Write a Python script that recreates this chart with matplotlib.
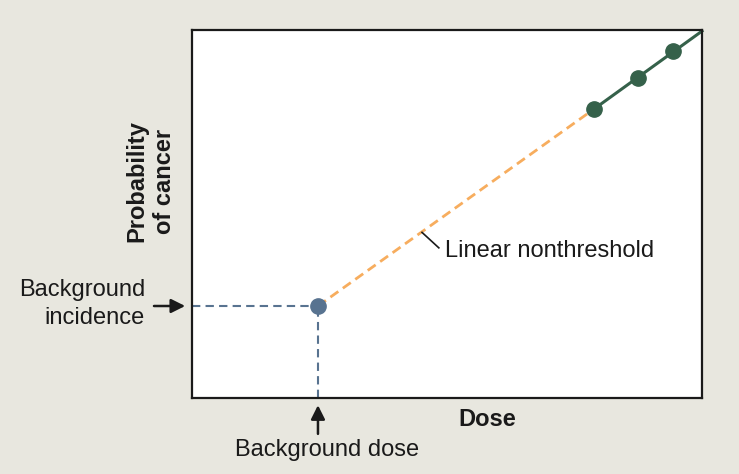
import numpy as np
import matplotlib.pyplot as plt

plt.rcParams['font.family'] = ['Liberation Sans', 'DejaVu Sans']

# data (arbitrary units, axes run 0..10)
bg_dose = 2.47
bg_incidence = 2.5
lnt_x = [2.47, 7.88]
lnt_y = [2.5, 7.85]
obs_x = [7.88, 8.75, 9.43]
obs_y = [7.85, 8.70, 9.43]
fit_x = [7.88, 10.0]
fit_y = [7.85, 9.97]

bg = '#e8e7df'
blue = '#587390'
green = '#35614a'
orange = '#f7ad5e'

fig = plt.figure(figsize=(7.39, 4.74), dpi=100, facecolor=bg)
ax = fig.add_axes([192/739, 76/474, 510/739, 368/474])
ax.set_xlim(0, 10)
ax.set_ylim(0, 10)
ax.set_xticks([])
ax.set_yticks([])
for s in ax.spines.values():
    s.set_linewidth(1.6)
    s.set_color('#1a1a1a')

# background guides
ax.plot([0, bg_dose], [bg_incidence, bg_incidence], color=blue, lw=1.5, ls=(0, (4, 2.5)))
ax.plot([bg_dose, bg_dose], [0, bg_incidence], color=blue, lw=1.5, ls=(0, (4, 2.5)))
# linear nonthreshold extrapolation
ax.plot(lnt_x, lnt_y, color=orange, lw=2, ls=(0, (3.5, 2)))
# observed high-dose data
ax.plot(fit_x, fit_y, color=green, lw=2.2, clip_on=False)
ax.plot(obs_x, obs_y, 'o', color=green, ms=11, zorder=5)
ax.plot([bg_dose], [bg_incidence], 'o', color=blue, ms=11, zorder=5)

# label for LNT line
ax.plot([4.51, 4.84], [4.50, 4.08], color='#1a1a1a', lw=1.2)
ax.text(4.96, 4.0, 'Linear nonthreshold', fontsize=17, va='center', ha='left', color='#1a1a1a')

# arrows
ax.annotate('', xy=(-0.08, bg_incidence), xytext=(-0.8, bg_incidence),
            xycoords='data', annotation_clip=False,
            arrowprops=dict(arrowstyle='-|>', color='#1a1a1a', lw=1.8, mutation_scale=21))
ax.annotate('', xy=(bg_dose, -0.12), xytext=(bg_dose, -1.05),
            xycoords='data', annotation_clip=False,
            arrowprops=dict(arrowstyle='-|>', color='#1a1a1a', lw=1.8, mutation_scale=21))

fig.text(145/739, 1 - 304/474, 'Background\nincidence', fontsize=17, ha='right', va='center',
         color='#1a1a1a', linespacing=1.38)
fig.text(327/739, 1 - 450/474, 'Background dose', fontsize=17, ha='center', va='center', color='#1a1a1a')
fig.text(487/739, 1 - 419/474, 'Dose', fontsize=17, fontweight='bold', ha='center', va='center', color='#1a1a1a')
fig.text(151/739, 1 - 181/474, 'Probability\nof cancer', fontsize=17, fontweight='bold', rotation=90,
         ha='center', va='center', color='#1a1a1a', linespacing=1.25)

fig.savefig('out.png', dpi=100, facecolor=bg)
